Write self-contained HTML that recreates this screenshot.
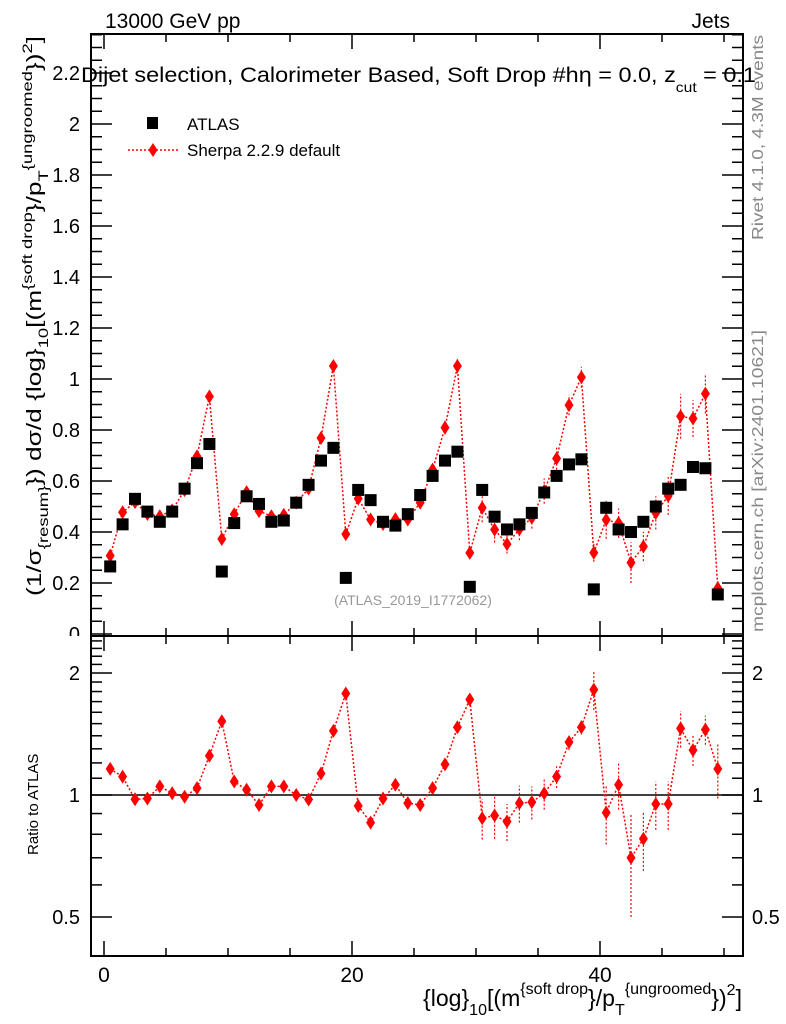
<!DOCTYPE html>
<html><head><meta charset="utf-8"><style>
body{margin:0;background:#fff}
svg{display:block;font-family:"Liberation Sans",sans-serif}
</style></head><body>
<svg id="chart" width="786" height="1024" viewBox="0 0 786 1024" xmlns="http://www.w3.org/2000/svg">
<defs><clipPath id="mainclip"><rect x="0" y="0" width="786" height="636"/></clipPath></defs>
<g id="g"></g>
</svg>
<script>
const categories = [0.5,1.5,2.5,3.5,4.5,5.5,6.5,7.5,8.5,9.5,10.5,11.5,12.5,13.5,14.5,15.5,16.5,17.5,18.5,19.5,20.5,21.5,22.5,23.5,24.5,25.5,26.5,27.5,28.5,29.5,30.5,31.5,32.5,33.5,34.5,35.5,36.5,37.5,38.5,39.5,40.5,41.5,42.5,43.5,44.5,45.5,46.5,47.5,48.5,49.5];
const atlasValues = [0.265,0.43,0.53,0.48,0.44,0.48,0.57,0.67,0.745,0.245,0.435,0.54,0.51,0.44,0.445,0.515,0.585,0.68,0.73,0.22,0.565,0.525,0.44,0.425,0.47,0.545,0.62,0.68,0.715,0.185,0.565,0.46,0.41,0.43,0.475,0.555,0.62,0.665,0.685,0.175,0.495,0.41,0.40,0.44,0.50,0.57,0.585,0.655,0.65,0.155];
const ratioValues = [1.16,1.11,0.976,0.98,1.05,1.01,0.99,1.04,1.25,1.52,1.08,1.03,0.945,1.05,1.05,1.0,0.975,1.13,1.44,1.78,0.94,0.855,0.98,1.06,0.955,0.945,1.04,1.19,1.47,1.72,0.876,0.89,0.86,0.955,0.96,1.01,1.11,1.35,1.47,1.82,0.905,1.06,0.70,0.78,0.95,0.95,1.46,1.29,1.45,1.16];
const ratioErrors = [0.02,0.02,0.02,0.02,0.02,0.02,0.02,0.02,0.02,0.02,0.02,0.02,0.02,0.02,0.02,0.02,0.02,0.02,0.03,0.04,0.03,0.03,0.03,0.03,0.03,0.03,0.03,0.04,0.04,0.05,0.10,0.11,0.09,0.10,0.09,0.09,0.07,0.06,0.06,0.2,0.15,0.14,0.2,0.13,0.13,0.13,0.15,0.11,0.12,0.18];
const mainTickLabels = ["0","0.2","0.4","0.6","0.8","1","1.2","1.4","1.6","1.8","2","2.2"];
const ratioTickLabels = ["0.5","1","2"];
const xTickLabels = ["0","20","40"];

const NS="http://www.w3.org/2000/svg";
const G=document.getElementById('g');
function el(t,a,p){const e=document.createElementNS(NS,t);for(const k in a)e.setAttribute(k,a[k]);(p||G).appendChild(e);return e;}
const L=91,R=743,T=34,MB=636,RB=956;
const X=v=>104+(v)*12.4;
const Y=v=>634-v*255;
const YR=v=>795-Math.log2(v)*122;

const f1=el('rect',{x:L,y:T,width:R-L,height:MB-T,fill:'none',stroke:'#000','stroke-width':2});


const f2=el('rect',{x:L,y:MB,width:R-L,height:RB-MB,fill:'none',stroke:'#000','stroke-width':2});



for(let v=0;v<=50;v+=5){
  const x=X(v),big=v%20===0;const h=big?15:8;
  [[T,T+h],[MB,MB-h],[MB,MB+h],[RB,RB-h]].forEach(p=>el('line',{x1:x,x2:x,y1:p[0],y2:p[1],stroke:'#000','stroke-width':1.5}));
}
xTickLabels.forEach(s=>{const t=el('text',{x:X(+s),y:982,'font-size':21,'text-anchor':'middle'});t.textContent=s;

});
for(let i=0;i<=47;i++){const v=i*0.05;const y=Y(v);if(y<T)break;const big=i%4===0;const h=big?21:11;
  el('line',{x1:L,x2:L+h,y1:y,y2:y,stroke:'#000','stroke-width':1.5});
  el('line',{x1:R,x2:R-h,y1:y,y2:y,stroke:'#000','stroke-width':1.5});}
const ylab=el('g',{'clip-path':'url(#mainclip)'});
mainTickLabels.forEach(s=>{const t=el('text',{x:80,y:Y(+s)+7,'font-size':20,'text-anchor':'end'},ylab);t.textContent=s;

});
for(let i=4;i<=24;i++){const v=i/10;const y=YR(v);if(y<MB||y>RB)continue;const big=(i===5||i===10||i===20);const h=big?21:11;
  el('line',{x1:L,x2:L+h,y1:y,y2:y,stroke:'#000','stroke-width':1.5});
  el('line',{x1:R,x2:R-h,y1:y,y2:y,stroke:'#000','stroke-width':1.5});}
ratioTickLabels.forEach(s=>{
  const t=el('text',{x:80,y:YR(+s)+7,'font-size':20,'text-anchor':'end'});t.textContent=s;
  
  
  const t2=el('text',{x:752,y:YR(+s)+7,'font-size':20});t2.textContent=s;
  
  });
const one=el('line',{x1:L,x2:R,y1:YR(1),y2:YR(1),stroke:'#000','stroke-width':1.5});



const wm=el('text',{x:413,y:605,'font-size':14,fill:'#999','text-anchor':'middle'});wm.textContent='(ATLAS_2019_I1772062)';



function diamond(x,y,p){return el('path',{d:`M${x} ${y-7}L${x+4.5} ${y}L${x} ${y+7}L${x-4.5} ${y}Z`,fill:'#f00'},p);}

const sherpa=categories.map((c,i)=>atlasValues[i]*ratioValues[i]);
const sErr=categories.map((c,i)=>atlasValues[i]*ratioErrors[i]);
const gs=el('g',{});
el('polyline',{points:categories.map((c,i)=>X(c)+','+Y(sherpa[i])).join(' '),fill:'none',stroke:'#f00','stroke-width':1.5,'stroke-dasharray':'2,2'},gs);
categories.forEach((c,i)=>{
  el('line',{x1:X(c),x2:X(c),y1:Y(sherpa[i]-sErr[i]),y2:Y(sherpa[i]+sErr[i]),stroke:'#f00','stroke-width':1.2,'stroke-dasharray':'2,2'},gs);
  const d=diamond(X(c),Y(sherpa[i]),gs);
  
  
});
const ga=el('g',{});
categories.forEach((c,i)=>{
  const r=el('rect',{x:X(c)-6,y:Y(atlasValues[i])-6,width:12,height:12,fill:'#000'},ga);
  
  
});
const gr=el('g',{});
el('polyline',{points:categories.map((c,i)=>X(c)+','+YR(ratioValues[i])).join(' '),fill:'none',stroke:'#f00','stroke-width':1.5,'stroke-dasharray':'2,2'},gr);
categories.forEach((c,i)=>{
  el('line',{x1:X(c),x2:X(c),y1:YR(Math.max(0.41,ratioValues[i]-ratioErrors[i])),y2:YR(ratioValues[i]+ratioErrors[i]),stroke:'#f00','stroke-width':1.2,'stroke-dasharray':'2,2'},gr);
  const d=diamond(X(c),YR(ratioValues[i]),gr);
  
  
});
</script>
<svg style="position:absolute;left:0;top:0" width="786" height="1024" xmlns="http://www.w3.org/2000/svg" font-family="Liberation Sans, sans-serif">
<text x="105" y="28" font-size="21">13000 GeV pp</text>
<text x="730" y="28" font-size="21" text-anchor="end">Jets</text>
<text x="81" y="82" font-size="21" textLength="675" lengthAdjust="spacingAndGlyphs">Dijet selection, Calorimeter Based, Soft Drop #hη = 0.0, z<tspan font-size="14" dy="10">cut</tspan><tspan dy="-10"> = 0.1</tspan></text>
<g>
<rect x="147" y="117" width="11" height="12" fill="#000"/>
<text x="187" y="130" font-size="17">ATLAS</text>
<line x1="128" x2="180" y1="150" y2="150" stroke="#f00" stroke-width="1.5" stroke-dasharray="2,2"/>
<path d="M153 143L157.5 150L153 157L148.5 150Z" fill="#f00"/>
<text x="187" y="156" font-size="17">Sherpa 2.2.9 default</text>
</g>
<text transform="translate(763,240) rotate(-90)" font-size="16" fill="#888" textLength="205" lengthAdjust="spacingAndGlyphs">Rivet 4.1.0,  4.3M events</text>
<text transform="translate(763,632) rotate(-90)" font-size="16" fill="#888" textLength="302" lengthAdjust="spacingAndGlyphs">mcplots.cern.ch [arXiv:2401.10621]</text>
<text transform="translate(41,596) rotate(-90)" font-size="20" textLength="560" lengthAdjust="spacingAndGlyphs">(1/σ<tspan font-size="14" dy="7">{resum}</tspan><tspan dy="-7">}) dσ/d {log}</tspan><tspan font-size="14" dy="7">10</tspan><tspan dy="-7">[(m</tspan><tspan font-size="14" dy="-9">{soft drop</tspan><tspan dy="9">}/p</tspan><tspan font-size="14" dy="7">T</tspan><tspan font-size="14" dy="-16">{ungroomed</tspan><tspan dy="9">})</tspan><tspan font-size="14" dy="-9">2</tspan><tspan dy="9">]</tspan></text>
<text transform="translate(38,855) rotate(-90)" font-size="15">Ratio to ATLAS</text>
<text x="423" y="1006" font-size="23" textLength="319" lengthAdjust="spacingAndGlyphs">{log}<tspan font-size="16" dy="9">10</tspan><tspan dy="-9">[(m</tspan><tspan font-size="16" dy="-12">{soft drop</tspan><tspan dy="12">}/p</tspan><tspan font-size="16" dy="9">T</tspan><tspan font-size="16" dy="-21">{ungroomed</tspan><tspan dy="12">})</tspan><tspan font-size="16" dy="-11">2</tspan><tspan dy="11">]</tspan></text>
</svg>
</body></html>
